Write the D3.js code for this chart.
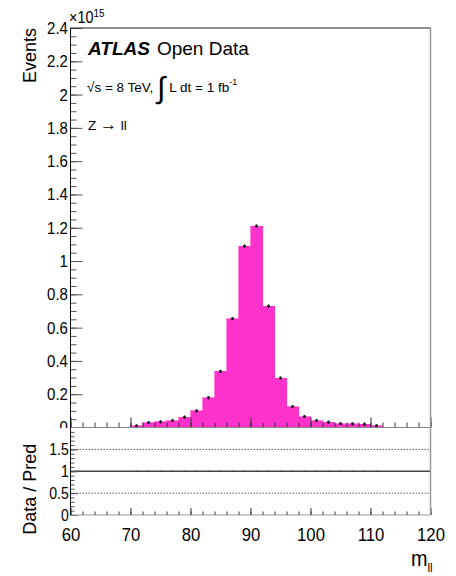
<!DOCTYPE html>
<html>
<head>
<meta charset="UTF-8">
<script src="https://d3js.org/d3.v7.min.js"></script>
<style>
  body { margin: 0; background: #fff; }
  svg text { font-family: "Liberation Sans", Arial, sans-serif; fill: #000; }
</style>
</head>
<body>
<svg id="chart"></svg>
<script>
// bin low edges (GeV), 2 GeV wide
const binLow = [70, 72, 74, 76, 78, 80, 82, 84, 86, 88, 90, 92, 94, 96, 98, 100, 102, 104, 106, 108, 110];
const binWidth = 2;
// predicted events (x 1e15)
const pred = [0.010, 0.030, 0.034, 0.042, 0.062, 0.100, 0.179, 0.337, 0.654, 1.090, 1.210, 0.729, 0.297, 0.126, 0.066, 0.042, 0.032, 0.024, 0.022, 0.020, 0.010];
// data (x 1e15)
const dataVals = [0.010, 0.030, 0.034, 0.042, 0.062, 0.100, 0.179, 0.337, 0.654, 1.090, 1.210, 0.729, 0.297, 0.126, 0.066, 0.042, 0.032, 0.024, 0.022, 0.020, 0.010];
const yTicks = [0, 0.2, 0.4, 0.6, 0.8, 1, 1.2, 1.4, 1.6, 1.8, 2, 2.2, 2.4];
const ratioTicks = [0, 0.5, 1, 1.5];
const xTicks = [60, 70, 80, 90, 100, 110, 120];

const W = 456, H = 576;
const left = 70.5, right = 430.5;
const mainTop = 28, mainBot = 427.5;
const ratTop = 427.5, ratBot = 515;

const svg = d3.select("#chart").attr("width", W).attr("height", H);

const x = d3.scaleLinear().domain([60, 120]).range([left, right]);
const y = d3.scaleLinear().domain([0, 2.4]).range([mainBot, mainTop]);
const yr = d3.scaleLinear().domain([0, 2]).range([ratBot, ratTop]);

// ---- main panel ----
const main = svg.append("g");

main.selectAll(".bar")
  .data(binLow)
  .enter()
  .append("rect")
  .attr("x", (d) => x(d))
  .attr("width", (d) => x(d + binWidth) - x(d))
  .attr("y", (d, i) => y(pred[i]))
  .attr("height", (d, i) => y(0) - y(pred[i]))
  .attr("fill", "#ff33cc")
  .attr("stroke", "#ff33cc")
  .attr("stroke-width", 0.6)
  .attr("shape-rendering", "crispEdges");

// minor + major ticks on y
const yMinor = d3.range(0, 2.401, 0.05);
main.append("g")
  .attr("transform", `translate(${left},0)`)
  .call(d3.axisLeft(y).tickValues(yMinor).tickSize(-6).tickFormat(""))
  .call(g => g.select(".domain").remove())
  .call(g => g.selectAll("line").attr("stroke", "#555"));

const yAx = main.append("g")
  .attr("transform", `translate(${left},0)`)
  .call(d3.axisLeft(y).tickValues(yTicks).tickSize(-12).tickPadding(3)
    .tickFormat(d3.format("~g")))
  .call(g => g.select(".domain").remove())
  .call(g => g.selectAll("line").attr("stroke", "#555"));
yAx.selectAll("text")
  .attr("font-size", 17)
  .attr("transform", "scale(0.88,1)");

// x ticks pointing up at bottom of main panel
const xMinor = d3.range(60, 120.1, 2);
main.append("g")
  .attr("transform", `translate(0,${mainBot})`)
  .call(d3.axisBottom(x).tickValues(xMinor).tickSize(-5).tickFormat(""))
  .call(g => g.select(".domain").remove())
  .call(g => g.selectAll("line").attr("stroke", "#333"));
main.append("g")
  .attr("transform", `translate(0,${mainBot})`)
  .call(d3.axisBottom(x).tickValues(xTicks).tickSize(-10).tickFormat(""))
  .call(g => g.select(".domain").remove())
  .call(g => g.selectAll("line").attr("stroke", "#333"));

// data points
const centers = binLow.map(d => d + binWidth / 2);
main.selectAll(".err")
  .data(centers)
  .enter()
  .append("line")
  .attr("x1", d => x(d)).attr("x2", d => x(d))
  .attr("y1", (d, i) => y(dataVals[i]) - 1.5)
  .attr("y2", (d, i) => y(dataVals[i]) + 1.5)
  .attr("stroke", "#000");
main.selectAll(".pt")
  .data(centers)
  .enter()
  .append("circle")
  .attr("cx", d => x(d))
  .attr("cy", (d, i) => y(dataVals[i]))
  .attr("r", 1.6)
  .attr("fill", "#222");

// frame
main.append("line").attr("x1", left).attr("x2", right).attr("y1", mainTop).attr("y2", mainTop)
  .attr("stroke", "#222").attr("stroke-width", 1.2);
main.append("line").attr("x1", right).attr("x2", right).attr("y1", mainTop).attr("y2", mainBot)
  .attr("stroke", "#999").attr("stroke-width", 1.5);
main.append("line").attr("x1", left).attr("x2", left).attr("y1", mainTop).attr("y2", mainBot)
  .attr("stroke", "#111");

// exponent
const expo = main.append("text").attr("x", 69).attr("y", 23).attr("font-size", 16)
  .attr("transform", "translate(69,0) scale(0.9,1) translate(-69,0)");
expo.append("tspan").text("×10");
expo.append("tspan").attr("font-size", 11).attr("dy", -6).text("15");

// y title
svg.append("text")
  .attr("transform", `translate(36,${mainTop}) rotate(-90)`)
  .attr("text-anchor", "end")
  .attr("font-size", 18)
  .text("Events");

// labels
const atlas = main.append("text").attr("x", 88).attr("y", 55).attr("font-size", 19);
atlas.append("tspan").attr("font-weight", "bold").attr("font-style", "italic").text("ATLAS");
atlas.append("tspan").attr("dx", 7).text("Open Data");

const lumi = main.append("text").attr("x", 87).attr("y", 92).attr("font-size", 13.5);
lumi.append("tspan").text("√s = 8 TeV, ");
lumi.append("tspan").attr("font-size", 30).attr("dy", 6).text("∫");
lumi.append("tspan").attr("dy", -6).attr("dx", 4).text("L dt = 1 fb");
lumi.append("tspan").attr("font-size", 9).attr("dy", -7).text("-1");

const zll = main.append("text").attr("x", 88).attr("y", 130).attr("font-size", 13.5);
zll.append("tspan").text("Z ");
zll.append("tspan").attr("font-size", 17).text("→");
zll.append("tspan").text(" ll");

// ---- ratio panel ----
const rat = svg.append("g");
rat.append("rect").attr("x", 0).attr("y", ratTop + 0.5).attr("width", W).attr("height", H - ratTop)
  .attr("fill", "#fff");

// guide lines
rat.selectAll(".guide")
  .data([0.5, 1.5])
  .enter()
  .append("line")
  .attr("x1", left).attr("x2", right)
  .attr("y1", d => yr(d)).attr("y2", d => yr(d))
  .attr("stroke", "#333").attr("stroke-width", 0.8).attr("stroke-dasharray", "1.5,1.5");
rat.append("line")
  .attr("x1", left).attr("x2", right)
  .attr("y1", yr(1)).attr("y2", yr(1))
  .attr("stroke", "#444").attr("stroke-width", 1.5);

// ratio points (data / pred)
rat.selectAll(".rpt")
  .data(centers)
  .enter()
  .append("circle")
  .attr("cx", d => x(d))
  .attr("cy", (d, i) => yr(dataVals[i] / pred[i]))
  .attr("r", 0.8)
  .attr("fill", "#444");

const yrMinor = d3.range(0, 1.901, 0.1);
rat.append("g")
  .attr("transform", `translate(${left},0)`)
  .call(d3.axisLeft(yr).tickValues(yrMinor).tickSize(-4).tickFormat(""))
  .call(g => g.select(".domain").remove())
  .call(g => g.selectAll("line").attr("stroke", "#555"));
const yrAx = rat.append("g")
  .attr("transform", `translate(${left},0)`)
  .call(d3.axisLeft(yr).tickValues(ratioTicks).tickSize(-8).tickPadding(2)
    .tickFormat(d3.format("~g")))
  .call(g => g.select(".domain").remove())
  .call(g => g.selectAll("line").attr("stroke", "#555"));
yrAx.selectAll("text")
  .attr("font-size", 16)
  .attr("transform", "scale(0.88,1)");

rat.append("g")
  .attr("transform", `translate(0,${ratBot})`)
  .call(d3.axisBottom(x).tickValues(xMinor).tickSize(-3.5).tickFormat(""))
  .call(g => g.select(".domain").remove())
  .call(g => g.selectAll("line").attr("stroke", "#333"));
const xAx = rat.append("g")
  .attr("transform", `translate(0,${ratBot})`)
  .call(d3.axisBottom(x).tickValues(xTicks).tickSize(-7).tickPadding(13)
    .tickFormat(d3.format("d")))
  .call(g => g.select(".domain").remove())
  .call(g => g.selectAll("line").attr("stroke", "#333"));
xAx.selectAll("text")
  .attr("font-size", 19)
  .attr("transform", "scale(0.88,1)");

// ratio frame
rat.append("line").attr("x1", left).attr("x2", right).attr("y1", ratTop).attr("y2", ratTop)
  .attr("stroke", "#888").attr("stroke-width", 1.2);
rat.append("line").attr("x1", left).attr("x2", right).attr("y1", ratBot).attr("y2", ratBot)
  .attr("stroke", "#999").attr("stroke-width", 1.2);
rat.append("line").attr("x1", right).attr("x2", right).attr("y1", ratTop).attr("y2", ratBot)
  .attr("stroke", "#999").attr("stroke-width", 1.5);
rat.append("line").attr("x1", left).attr("x2", left).attr("y1", ratTop).attr("y2", ratBot)
  .attr("stroke", "#111");

svg.append("text")
  .attr("transform", `translate(36,${(ratTop + ratBot) / 2 + 18}) rotate(-90)`)
  .attr("text-anchor", "middle")
  .attr("font-size", 18)
  .text("Data / Pred");

const mll = svg.append("text").attr("x", 411).attr("y", 566).attr("font-size", 22)
  .attr("transform", "translate(411,0) scale(0.9,1) translate(-411,0)");
mll.append("tspan").text("m");
mll.append("tspan").attr("font-size", 13).attr("dy", 6).text("ll");
</script>
</body>
</html>
